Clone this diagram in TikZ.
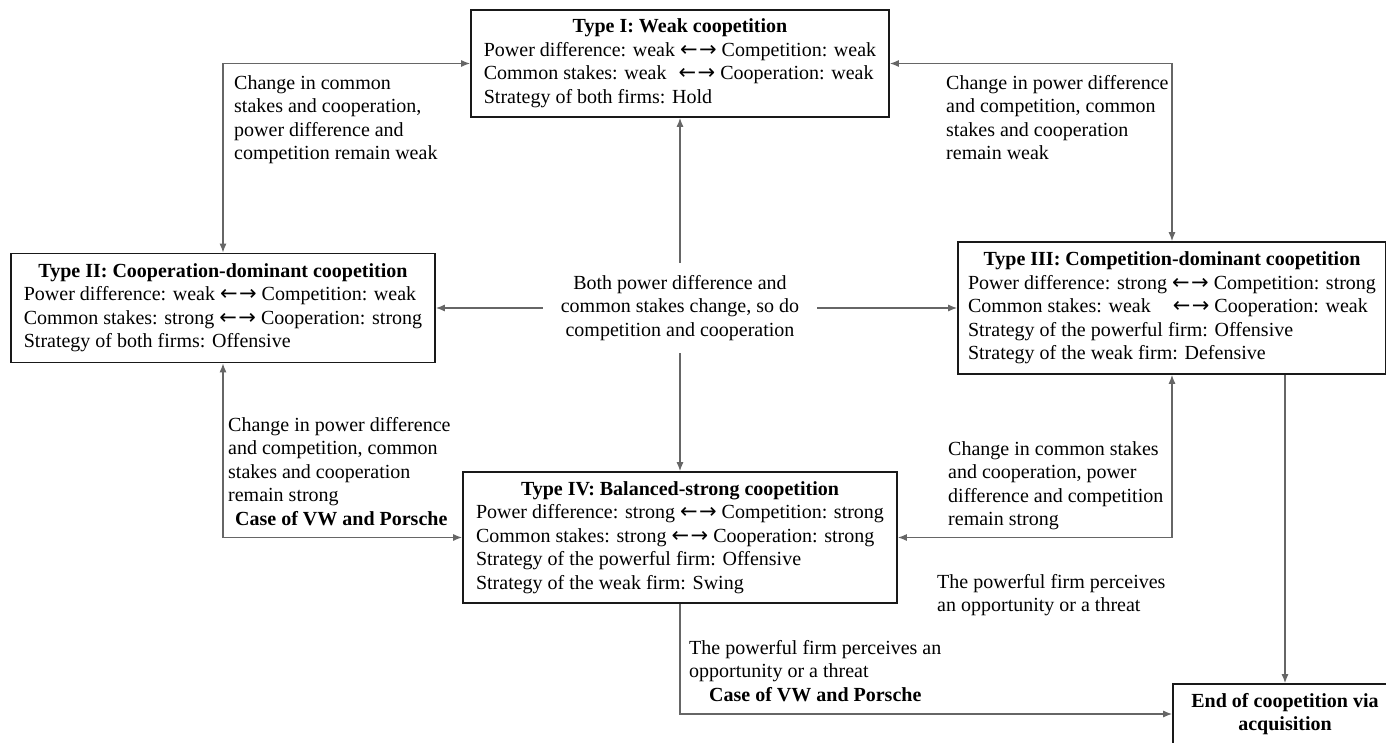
\documentclass[tikz,border=0pt]{standalone}
\usepackage{fontspec}
\setmainfont{Liberation Serif}
\newfontfamily\arrowfont{DejaVu Sans}
\newcommand{\twoway}{{\arrowfont\fontsize{21}{23.5}\selectfont ←\kern1.5pt→}}
\usetikzlibrary{arrows.meta,positioning}

\begin{document}
\begin{tikzpicture}[x=1pt,y=-1pt,font=\fontsize{20}{23.5}\selectfont,
	typebox/.style={draw=black!90,line width=1.6pt,inner sep=0pt,align=center},
	note/.style={anchor=north west,inner sep=0pt},
	link/.style={draw=black!60,line width=1.3pt,{Latex[length=9pt,width=7pt]}-{Latex[length=9pt,width=7pt]}},
	oneway/.style={draw=black!60,line width=1.3pt,-{Latex[length=9pt,width=7pt]}}]
	\useasboundingbox (0,0) rectangle (1386,742);
	\clip (0,0) rectangle (1386,742);
	% the four types
	\node[typebox,minimum width=418pt,minimum height=107pt] (weak) at (680,63.5) {\begin{tabular}{@{}l@{}}\multicolumn{1}{@{}c@{}}{\textbf{Type I: Weak coopetition}}\\ Power difference: weak \twoway{} Competition: weak\\ Common stakes: weak\hspace{12pt}\twoway{} Cooperation: weak\\ Strategy of both firms: Hold\end{tabular}};
	\node[typebox,minimum width=424pt,minimum height=109pt] (coop) at (223,308) {\begin{tabular}{@{}l@{}}\multicolumn{1}{@{}c@{}}{\textbf{Type II: Cooperation-dominant coopetition}}\\ Power difference: weak \twoway{} Competition: weak\\ Common stakes: strong \twoway{} Cooperation: strong\\ Strategy of both firms: Offensive\end{tabular}};
	\node[typebox,minimum width=428pt,minimum height=132pt] (comp) at (1172,308) {\begin{tabular}{@{}l@{}}\multicolumn{1}{@{}c@{}}{\textbf{Type III: Competition-dominant coopetition}}\\ Power difference: strong \twoway{} Competition: strong\\ Common stakes: weak\hspace{22pt}\twoway{} Cooperation: weak\\ Strategy of the powerful firm: Offensive\\ Strategy of the weak firm: Defensive\end{tabular}};
	\node[typebox,minimum width=434pt,minimum height=131pt] (balanced) at (680,537.5) {\begin{tabular}{@{}l@{}}\multicolumn{1}{@{}c@{}}{\textbf{Type IV: Balanced-strong coopetition}}\\ Power difference: strong \twoway{} Competition: strong\\ Common stakes: strong \twoway{} Cooperation: strong\\ Strategy of the powerful firm: Offensive\\ Strategy of the weak firm: Swing\end{tabular}};
	\node[typebox,minimum width=224pt,minimum height=60pt] (acq) at (1285,714) {\textbf{End of coopetition via}\\ \textbf{acquisition}};
	% centre
	\node[align=center,inner sep=0pt,minimum width=274pt,minimum height=90pt] (both) at (680,308) {Both power difference and\\ common stakes change, so do\\ competition and cooperation};
	\draw[oneway] (both) -- (weak);
	\draw[oneway] (both) -- (balanced);
	\draw[oneway] (both) -- (coop);
	\draw[oneway] (both) -- (comp);
	% transitions
	\draw[link] (coop) |- (weak);
	\draw[link] (comp) |- (weak);
	\draw[link] (coop) |- (balanced);
	\draw[link] (comp) |- (balanced);
	\draw[oneway] (balanced) |- (acq);
	\draw[oneway] (comp.south -| acq.north) -- (acq.north);
	% labels
	\node[note] (tlnote) at (234,72.5) {\begin{tabular}{@{}l@{}}Change in common\\ stakes and cooperation,\\ power difference and\\ competition remain weak\end{tabular}};
	\node[note] (trnote) at (946,72.5) {\begin{tabular}{@{}l@{}}Change in power difference\\ and competition, common\\ stakes and cooperation\\ remain weak\end{tabular}};
	\node[note] (blnote) at (228,414.5) {\begin{tabular}{@{}l@{}}Change in power difference\\ and competition, common\\ stakes and cooperation\\ remain strong\\ \hspace*{7pt}\textbf{Case of VW and Porsche}\end{tabular}};
	\node[note] (brnote) at (948,438.5) {\begin{tabular}{@{}l@{}}Change in common stakes\\ and cooperation, power\\ difference and competition\\ remain strong\end{tabular}};
	\node[note] (acqnote) at (937,571.5) {\begin{tabular}{@{}l@{}}The powerful firm perceives\\ an opportunity or a threat\end{tabular}};
	\node[note] (vwnote) at (689,637.5) {\begin{tabular}{@{}l@{}}The powerful firm perceives an\\ opportunity or a threat\\ \hspace*{20pt}\textbf{Case of VW and Porsche}\end{tabular}};
\end{tikzpicture}
\end{document}
